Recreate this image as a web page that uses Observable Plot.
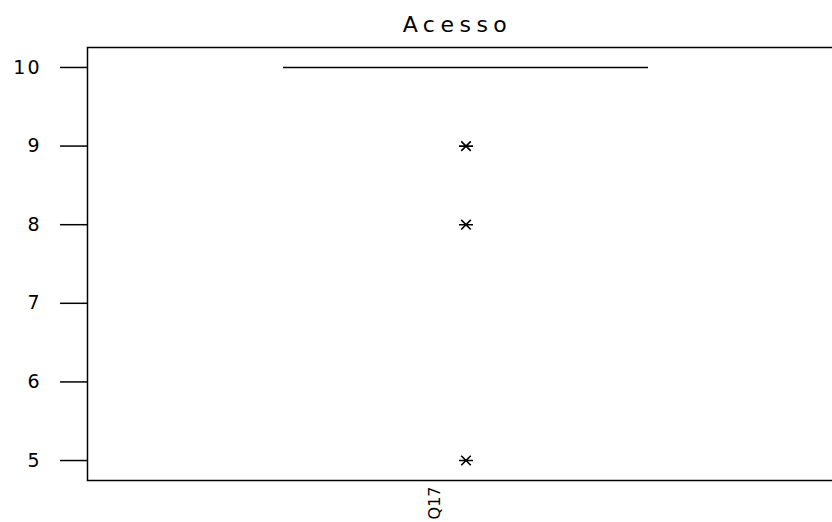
<!DOCTYPE html>
<html><head><meta charset="utf-8">
<script src="https://cdn.jsdelivr.net/npm/d3@7"></script>
<script src="https://cdn.jsdelivr.net/npm/@observablehq/plot@0.6"></script>
<style>body{margin:0;background:#fff}</style>
</head><body><div id="chart"></div>
<script>
const title = "Acesso";
const categories = ["Q17"];
const boxValue = [10];        // Q1 = median = Q3 = 10 (collapsed box)
const outliers = [9, 8, 5];
const yTicks = [5, 6, 7, 8, 9, 10];

const boxData = categories.map((c, i) => ({cat: c, value: boxValue[i]}));
const outlierData = outliers.map(v => ({cat: categories[0], value: v}));

// Minitab-style asterisk: horizontal bar crossed by an X
const starSymbol = {
  draw(context, size) {
    const r = Math.sqrt(size / Math.PI);
    const d = r * 0.68;
    context.moveTo(-r, 0); context.lineTo(r, 0);
    context.moveTo(-d, -d); context.lineTo(d, d);
    context.moveTo(-d, d); context.lineTo(d, -d);
  }
};

const plot = Plot.plot({
  width: 832, height: 522,
  marginLeft: 87, marginRight: -11, marginTop: 47, marginBottom: 42,
  style: {fontFamily: "DejaVu Sans", fontSize: "20px", color: "#000", background: "#fff"},
  x: {type: "band", domain: categories, padding: 0.349, label: null},
  y: {domain: [4.746, 10.254], label: null},
  marks: [
    Plot.frame({stroke: "#000", strokeWidth: 1.5}),
    Plot.axisY({ticks: yTicks, tickSize: 27, tickPadding: 19, label: null, strokeWidth: 1.5, fontSize: 19, tickFormat: d => String(d)}),
    Plot.axisX({tickRotate: -90, tickSize: 0, tickPadding: 6, label: null, fontSize: 16, dx: -31}),
    Plot.tickY(boxData, {x: "cat", y: "value", stroke: "#000", strokeWidth: 1.5}),
    Plot.dot(outlierData, {x: "cat", y: "value", symbol: starSymbol, r: 7, stroke: "#000", strokeWidth: 1.6}),
    Plot.text([title], {frameAnchor: "top", dy: -31, dx: -8, fontSize: 22, text: d => d})
  ]
});
const svg = d3.select(plot);
svg.selectAll("text").filter(function() { return this.textContent === title; })
  .attr("letter-spacing", "5.5px");
svg.selectAll("text").filter(function() { return yTicks.map(String).includes(this.textContent); })
  .attr("letter-spacing", "2px");
document.getElementById("chart").appendChild(plot);
</script>
</body></html>
